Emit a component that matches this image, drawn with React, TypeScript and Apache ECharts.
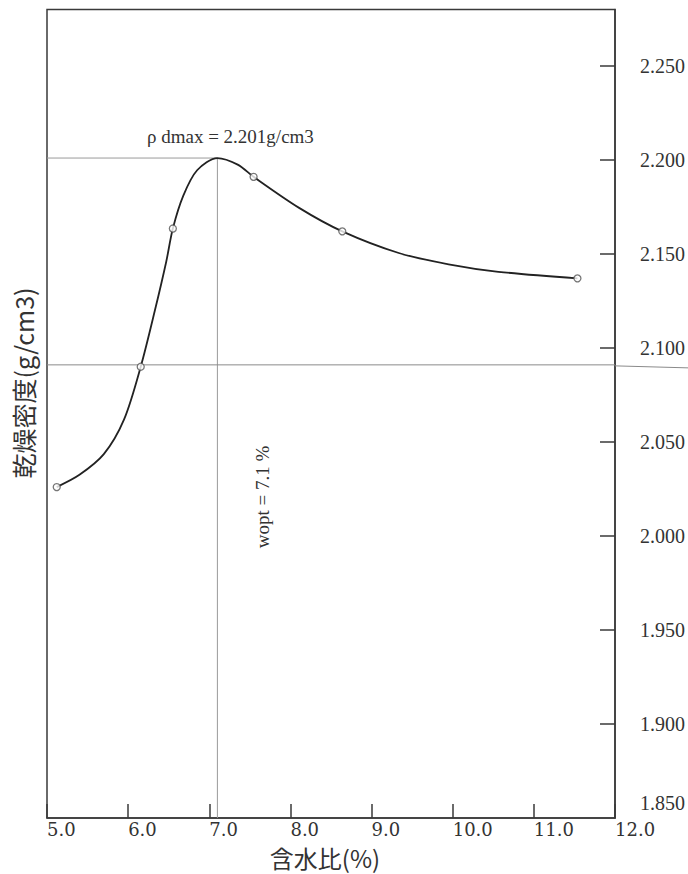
import React, { useEffect, useRef } from "react";
import * as echarts from "echarts";

// Measured points (water content %, dry density g/cm3)
const waterContent = [5.12, 6.155, 6.551, 7.546, 8.639, 11.537];
const dryDensity = [2.026, 2.09, 2.1635, 2.191, 2.162, 2.137];

// Fitted compaction curve
const curveX = [5.12, 5.4, 5.7, 5.95, 6.155, 6.33, 6.47, 6.551, 6.68, 6.85, 7.1, 7.35, 7.546, 8.107, 8.639, 9.335, 9.949, 10.563, 11.537];
const curveY = [2.026, 2.0325, 2.0435, 2.062, 2.09, 2.12, 2.146, 2.1635, 2.181, 2.1945, 2.201, 2.1975, 2.191, 2.1745, 2.162, 2.1505, 2.1445, 2.1405, 2.137];

const rhoDmax = 2.201;
const wOpt = 7.1;
const density95 = 2.091;

const xTicks = [5, 6, 7, 8, 9, 10, 11, 12];
const yTicks = [1.85, 1.9, 1.95, 2.0, 2.05, 2.1, 2.15, 2.2, 2.25];

const SERIF_A = "DejaVu Serif";
const SERIF_B = "Liberation Serif";
const CJK = "Noto Sans CJK JP";

export default function App() {
  const ref = useRef<HTMLDivElement>(null);
  useEffect(() => {
    if (!ref.current) return;
    const chart = echarts.init(ref.current, null, { renderer: "svg" });
    const option: any = {
      animation: false,
      backgroundColor: "#fff",
      grid: {
        left: 47,
        right: 71,
        top: 9.5,
        bottom: 56,
        show: true,
        borderColor: "#3a3a3a",
        borderWidth: 1.5,
      },
      xAxis: {
        type: "value",
        min: xTicks[0],
        max: xTicks[xTicks.length - 1],
        interval: 1,
        splitLine: { show: false },
        axisLine: { lineStyle: { color: "#3a3a3a", width: 1.5 } },
        axisTick: { inside: true, length: 14, lineStyle: { color: "#3a3a3a", width: 1.5 } },
        axisLabel: {
          align: "left",
          margin: 2,
          color: "#333",
          fontFamily: SERIF_A,
          fontSize: 18,
          formatter: (v: number) => v.toFixed(1),
        },
      },
      yAxis: {
        type: "value",
        position: "right",
        min: yTicks[0],
        max: 2.28,
        interval: 0.05,
        splitLine: { show: false },
        axisLine: { show: true, lineStyle: { color: "#3a3a3a", width: 1.5 } },
        axisTick: { inside: true, length: 15, lineStyle: { color: "#3a3a3a", width: 1.5 } },
        axisLabel: {
          margin: 25,
          color: "#333",
          fontFamily: SERIF_B,
          fontSize: 20,
          showMaxLabel: false,
          showMinLabel: false,
          formatter: (v: number) => {
            const ok = yTicks.some((t) => Math.abs(t - v) < 1e-6);
            return ok ? v.toFixed(3) : "";
          },
        },
      },
      series: [
        {
          type: "line",
          data: [
            [xTicks[0], rhoDmax],
            [wOpt, rhoDmax],
            [wOpt, yTicks[0]],
          ],
          symbol: "none",
          lineStyle: { color: "#9a9a9a", width: 1 },
          z: 1,
        },
        {
          type: "line",
          data: [
            [xTicks[0], density95],
            [xTicks[xTicks.length - 1], density95],
          ],
          symbol: "none",
          lineStyle: { color: "#8a8a8a", width: 1 },
          z: 1,
        },
        {
          type: "line",
          data: curveX.map((x, i) => [x, curveY[i]]),
          smooth: 0.3,
          symbol: "none",
          lineStyle: { color: "#222", width: 1.8 },
          z: 2,
        },
        {
          type: "scatter",
          data: waterContent.map((x, i) => [x, dryDensity[i]]),
          symbol: "circle",
          symbolSize: 7,
          itemStyle: { color: "#fff", borderColor: "#555", borderWidth: 1.3 },
          z: 3,
        },
      ],
    };
    chart.setOption(option);

    const yLine = chart.convertToPixel({ yAxisIndex: 0 }, density95) as number;
    const yMin = chart.convertToPixel({ yAxisIndex: 0 }, yTicks[0]) as number;
    const xRight = chart.convertToPixel({ xAxisIndex: 0 }, xTicks[xTicks.length - 1]) as number;
    const peak = chart.convertToPixel({ gridIndex: 0 }, [wOpt, rhoDmax]) as number[];

    chart.setOption({
      graphic: [
        {
          type: "line",
          shape: { x1: xRight, y1: yLine + 1, x2: 688, y2: yLine + 3 },
          style: { stroke: "#8a8a8a", lineWidth: 1 },
          z: 1,
        },
        {
          type: "text",
          x: xRight + 25,
          y: yMin - 15,
          style: {
            text: yTicks[0].toFixed(3),
            fontFamily: SERIF_B,
            fontSize: 20,
            fill: "#333",
            align: "left",
            verticalAlign: "middle",
          },
        },
        {
          type: "text",
          x: peak[0] + 13,
          y: peak[1] - 22,
          style: {
            text: "ρ dmax = " + rhoDmax.toFixed(3) + "g/cm3",
            fontFamily: SERIF_B,
            fontSize: 19,
            fill: "#333",
            align: "center",
            verticalAlign: "middle",
          },
        },
        {
          type: "text",
          x: 262,
          y: 497,
          rotation: Math.PI / 2,
          style: {
            text: "wopt = " + wOpt.toFixed(1) + " %",
            fontFamily: SERIF_B,
            fontSize: 19,
            fill: "#333",
            align: "center",
            verticalAlign: "middle",
          },
        },
        {
          type: "text",
          x: 23,
          y: 383,
          rotation: Math.PI / 2,
          style: {
            text: "乾燥密度(g/cm3)",
            fontFamily: CJK,
            fontSize: 25,
            fill: "#333",
            align: "center",
            verticalAlign: "middle",
          },
        },
        {
          type: "text",
          x: 325,
          y: 857,
          style: {
            text: "含水比(%)",
            fontFamily: CJK,
            fontSize: 24,
            fill: "#333",
            align: "center",
            verticalAlign: "middle",
          },
        },
      ],
    });
    return () => chart.dispose();
  }, []);
  return (
    <div
      ref={ref}
      style={{ position: "fixed", left: 0, top: 0, width: 688, height: 874, background: "#fff" }}
    />
  );
}
